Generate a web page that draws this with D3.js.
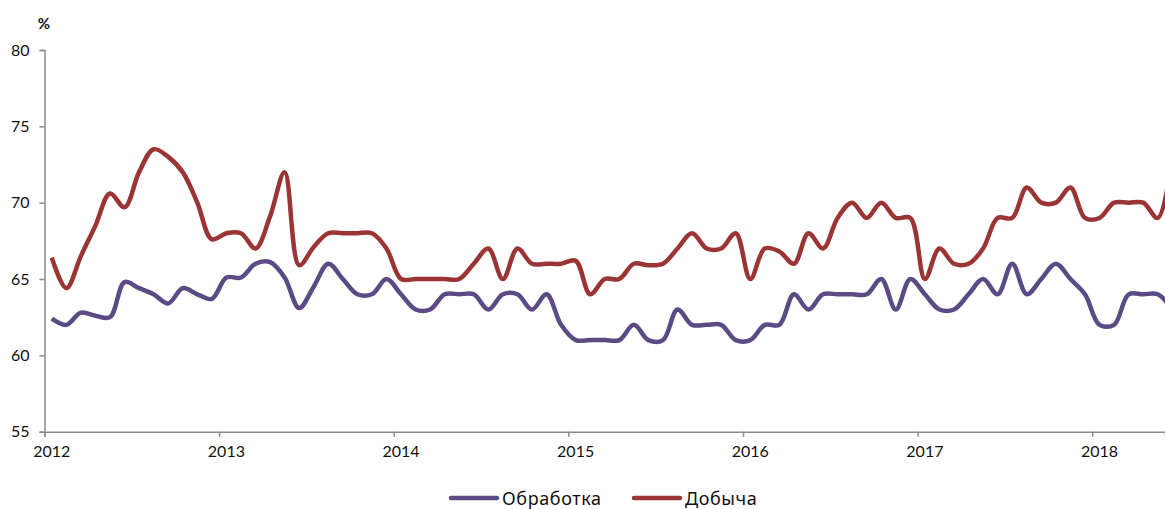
<!DOCTYPE html>
<html>
<head>
<meta charset="utf-8">
<script src="https://cdn.jsdelivr.net/npm/d3@7"></script>
<style>
  html, body { margin: 0; padding: 0; background: #fff; }
  .js-container { width: 1165px; height: 509px; }
  text { font-family: Lato, 'Noto Sans', sans-serif; fill: #111; }
</style>
</head>
<body>
<div class="js-container"></div>
<script>
;(function() {
  'use strict';

  // Monthly values, Jan 2012 .. Jun 2018 (last one sits just past the right edge).
  var seriesNames = ['Обработка', 'Добыча'];
  var seriesColors = ['#5c4a85', '#9b3434'];

  var obrabotka = [
    62.4, 62.0, 62.8, 62.6, 62.5, 64.8, 64.4, 64.0, 63.4, 64.4, 64.0, 63.7,
    65.1, 65.1, 66.0, 66.1, 65.1, 63.1, 64.5, 66.0, 65.0, 64.0, 64.0, 65.0,
    64.0, 63.0, 63.0, 64.0, 64.0, 64.0, 63.0, 64.0, 64.0, 63.0, 64.0, 62.0,
    61.0, 61.0, 61.0, 61.0, 62.0, 61.0, 61.0, 63.0, 62.0, 62.0, 62.0, 61.0,
    61.0, 62.0, 62.0, 64.0, 63.0, 64.0, 64.0, 64.0, 64.0, 65.0, 63.0, 65.0,
    64.0, 63.0, 63.0, 64.0, 65.0, 64.0, 66.0, 64.0, 65.0, 66.0, 65.0, 64.0,
    62.0, 62.0, 64.0, 64.0, 64.0, 63.0
  ];

  var dobycha = [
    66.4, 64.4, 66.5, 68.5, 70.6, 69.7, 72.0, 73.5, 73.0, 72.0, 70.0, 67.6,
    68.0, 68.0, 67.0, 69.1, 72.0, 65.9, 67.1, 68.0, 68.0, 68.0, 68.0, 67.0,
    65.0, 65.0, 65.0, 65.0, 65.0, 66.0, 67.0, 65.0, 67.0, 66.0, 66.0, 66.0,
    66.2, 64.0, 65.0, 65.0, 66.0, 65.9, 66.0, 67.0, 68.0, 67.0, 67.0, 68.0,
    65.0, 67.0, 66.8, 66.0, 68.0, 67.0, 69.0, 70.0, 69.0, 70.0, 69.0, 69.0,
    65.0, 67.0, 66.0, 66.0, 67.0, 69.0, 69.0, 71.0, 70.0, 70.0, 71.0, 69.0,
    69.0, 70.0, 70.0, 70.0, 69.0, 73.0
  ];

  var years = ['2012', '2013', '2014', '2015', '2016', '2017', '2018'];
  var yTicks = [55, 60, 65, 70, 75, 80];

  var W = 1165, H = 509;
  var left = 44.5, right = 1165, top = 50, bottom = 431.7;

  var svg = d3.select('.js-container').append('svg')
      .attr('width', W)
      .attr('height', H);

  // x runs in months from Jan 2012; 77 months fit in the plot width.
  var x = d3.scaleLinear().domain([0, 77]).range([left, right]);
  var y = d3.scaleLinear().domain([55, 80]).range([bottom, top]);

  var axisColor = '#8a8a8a';

  // y axis
  var yAxis = svg.append('g')
      .attr('transform', 'translate(' + left + ',0)')
      .call(d3.axisLeft(y).tickValues(yTicks).tickSize(5).tickPadding(10));

  // x axis: ticks at year starts, labels under January
  var xAxis = svg.append('g')
      .attr('transform', 'translate(0,' + bottom + ')')
      .call(d3.axisBottom(x).tickValues(d3.range(0, 77, 12)).tickSize(5).tickFormat(''));

  [yAxis, xAxis].forEach(function(g) {
    g.select('.domain').attr('stroke', axisColor).attr('stroke-width', 1.5);
    g.selectAll('.tick line').attr('stroke', axisColor).attr('stroke-width', 1.5);
  });
  yAxis.selectAll('.tick text')
      .style('font-size', '16px')
      .attr('fill', '#111');

  svg.append('g').selectAll('text')
      .data(years)
      .enter().append('text')
      .attr('x', function(d, i) { return x(i * 12 + 0.5); })
      .attr('y', bottom + 25)
      .attr('text-anchor', 'middle')
      .style('font-size', '16px')
      .text(function(d) { return d; });

  svg.append('text')
      .attr('x', 44)
      .attr('y', 29)
      .attr('text-anchor', 'middle')
      .style('font-size', '15px')
      .style('font-weight', 'bold')
      .text('%');

  var line = d3.line()
      .x(function(d, i) { return x(i + 0.5); })
      .y(function(d) { return y(d); })
      .curve(d3.curveCatmullRom.alpha(0.5));

  svg.append('clipPath').attr('id', 'plot-clip')
    .append('rect')
      .attr('x', 0).attr('y', 0)
      .attr('width', right).attr('height', H);

  var plot = svg.append('g').attr('clip-path', 'url(#plot-clip)');

  [obrabotka, dobycha].forEach(function(values, k) {
    plot.append('path')
        .datum(values)
        .attr('fill', 'none')
        .attr('stroke', seriesColors[k])
        .attr('stroke-width', 4.5)
        .attr('stroke-linejoin', 'round')
        .attr('d', line);
  });

  // legend
  var legendX = [449, 632];
  var legend = svg.append('g');
  seriesNames.forEach(function(name, k) {
    legend.append('line')
        .attr('x1', legendX[k] + 2).attr('x2', legendX[k] + 48)
        .attr('y1', 498).attr('y2', 498)
        .attr('stroke', seriesColors[k])
        .attr('stroke-width', 4.5)
        .attr('stroke-linecap', 'round');
    legend.append('text')
        .attr('x', legendX[k] + 53)
        .attr('y', 505)
        .style('font-family', "'Noto Sans', sans-serif")
        .style('font-size', '18px')
        .style('letter-spacing', '0.6px')
        .text(name);
  });

}());
</script>
</body>
</html>
